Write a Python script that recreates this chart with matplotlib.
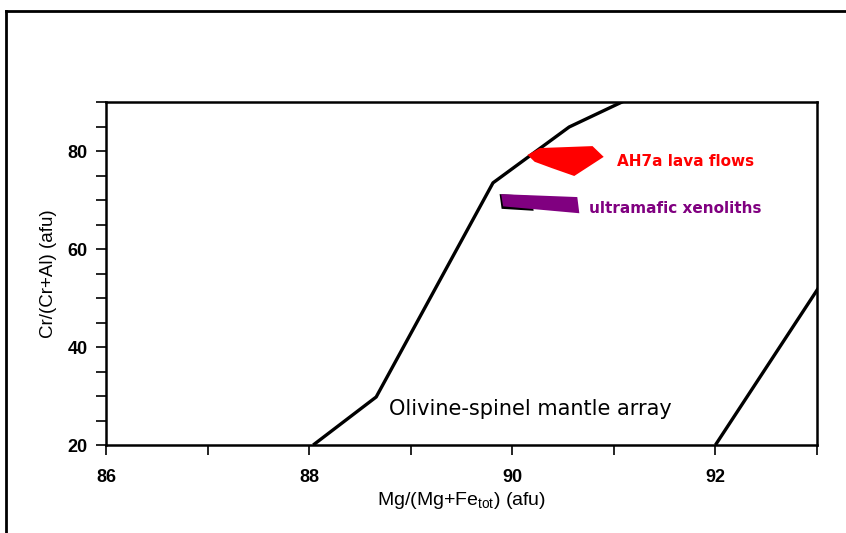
import matplotlib
matplotlib.use("Agg")
import matplotlib.pyplot as plt
from matplotlib.patches import Polygon
from matplotlib.lines import Line2D

# Data
array_left_x = [88.04, 88.66, 89.81, 90.56, 91.08, 91.6]
array_left_y = [20.0, 29.8, 73.5, 84.9, 90.0, 95.0]
array_right_x = [92.0, 93.0, 93.3]
array_right_y = [20.0, 51.6, 61.0]
lava_x = [90.15, 90.27, 90.79, 90.90, 90.61, 90.39, 90.22]
lava_y = [79.2, 80.6, 81.0, 78.8, 74.9, 76.5, 77.8]
xeno_x = [89.89, 90.64, 90.66, 89.91]
xeno_y = [71.2, 70.6, 67.3, 68.7]
x_major = [86, 88, 90, 92]
y_major = [20, 40, 60, 80]

fig = plt.figure(figsize=(8.46, 5.33), dpi=100)
ax = fig.add_axes([106/846, 1-445/533, (817-106)/846, (445-102)/533])

ax.plot(array_left_x, array_left_y, color="black", lw=2.4, solid_capstyle="butt")
ax.plot(array_right_x, array_right_y, color="black", lw=2.4, solid_capstyle="butt")

# thin dark edge on the lower-left of the xenolith field
shadow = [(xeno_x[0] - 0.015, xeno_y[0]), (xeno_x[0] + 0.3, xeno_y[0] - 0.4),
          (xeno_x[3] + 0.3, xeno_y[3] - 0.9), (xeno_x[3] - 0.015, xeno_y[3] - 0.5)]
ax.add_patch(Polygon(shadow, closed=True, facecolor="black", edgecolor="none", zorder=3))
ax.add_patch(Polygon(list(zip(xeno_x, xeno_y)), closed=True,
                     facecolor="#800080", edgecolor="none", zorder=4))
ax.add_patch(Polygon(list(zip(lava_x, lava_y)), closed=True,
                     facecolor="#ff0000", edgecolor="none", zorder=4))

ax.text(91.03, 77.8, "AH7a lava flows", color="#ff0000", fontsize=11,
        fontweight="bold", va="center", ha="left")
ax.text(90.76, 68.2, "ultramafic xenoliths", color="#800080", fontsize=11,
        fontweight="bold", va="center", ha="left")
ax.text(88.79, 27.3, "Olivine-spinel mantle array", color="black", fontsize=15,
        va="center", ha="left")

ax.set_xlim(86, 93)
ax.set_ylim(20, 90)
ax.set_xticks(x_major)
ax.set_xticks(range(86, 94), minor=True)
ax.set_yticks(y_major)
ax.set_yticks(range(20, 91, 5), minor=True)
ax.tick_params(which="both", direction="out", width=1.2, colors="black", length=7)
ax.tick_params(axis="x", which="major", labelsize=13, pad=10)
ax.tick_params(axis="y", which="major", labelsize=13, pad=6)
for lbl in ax.get_xticklabels() + ax.get_yticklabels():
    lbl.set_fontfamily("Liberation Sans")
    lbl.set_fontweight("bold")
for s in ax.spines.values():
    s.set_linewidth(1.8)

ax.set_xlabel(r"Mg/(Mg+Fe$_{\mathregular{tot}}$) (afu)", fontsize=14,
              family="Liberation Sans", labelpad=3)
ax.set_ylabel("Cr/(Cr+Al) (afu)", fontsize=13.5, family="Liberation Sans", labelpad=8)

# outer frame of the figure
fig.add_artist(Line2D([6/846, 6/846], [0, 1-11/533], color="black", lw=2.0,
                      transform=fig.transFigure))
fig.add_artist(Line2D([6/846, 1], [1-11/533, 1-11/533], color="black", lw=2.0,
                      transform=fig.transFigure))

fig.savefig("out.png", dpi=100)
